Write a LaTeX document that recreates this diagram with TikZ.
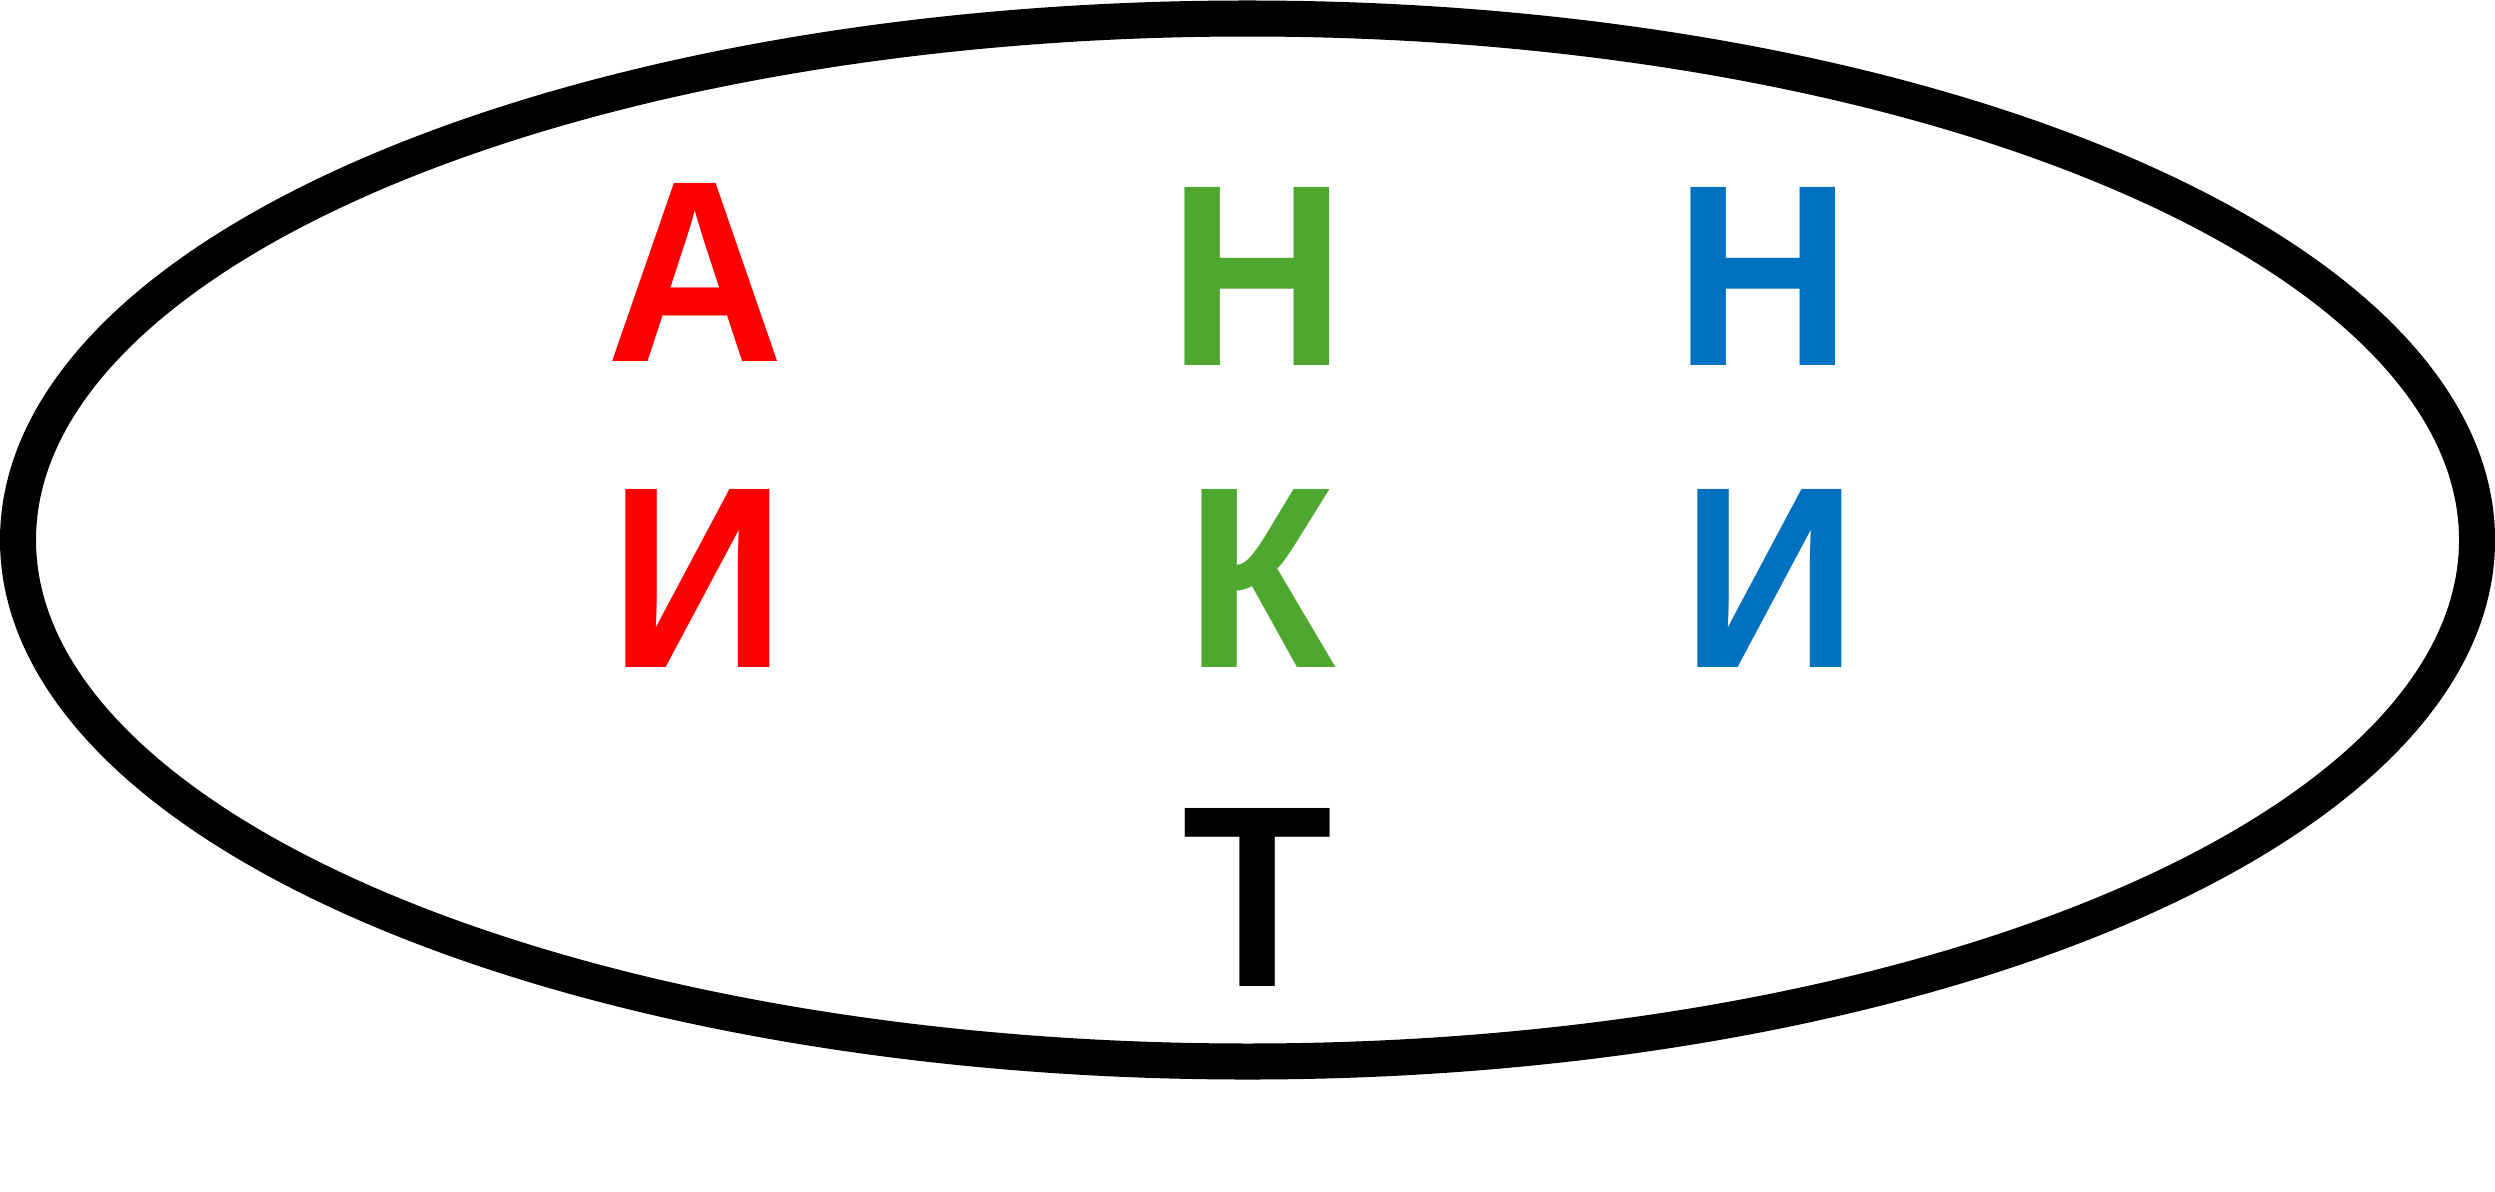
\documentclass[tikz,border=0pt]{standalone}
\usepackage{fontspec}
\setmainfont{Liberation Sans}
\definecolor{lred}{HTML}{FF0000}
\definecolor{lgreen}{HTML}{4EA72E}
\definecolor{lblue}{HTML}{0070C0}
\begin{document}
\begin{tikzpicture}[x=0.01cm,y=-0.01cm,
  letter/.style={inner sep=0pt, anchor=base, xscale=0.95, font=\fontsize{73.6pt}{80pt}\selectfont\bfseries}]
\useasboundingbox (0,0) rectangle (2495,1191);
\fill[white] (0,0) rectangle (2495,1191);
\draw[line width=0.36cm] (1247.5,540) ellipse [x radius=1229.5, y radius=521.5];
\node[letter, text=lred]   (a1) at (695,361) {А};
\node[letter, text=lgreen] (n1) at (1257,365) {Н};
\node[letter, text=lblue]  (n2) at (1763,365) {Н};
\node[letter, text=lred]   (i1) at (698,667) {И};
\node[letter, text=lgreen] (k1) at (1261,667) {К};
\node[letter, text=lblue]  (i2) at (1770,667) {И};
\node[letter, text=black]  (t1) at (1258,986) {Т};
\end{tikzpicture}
\end{document}
